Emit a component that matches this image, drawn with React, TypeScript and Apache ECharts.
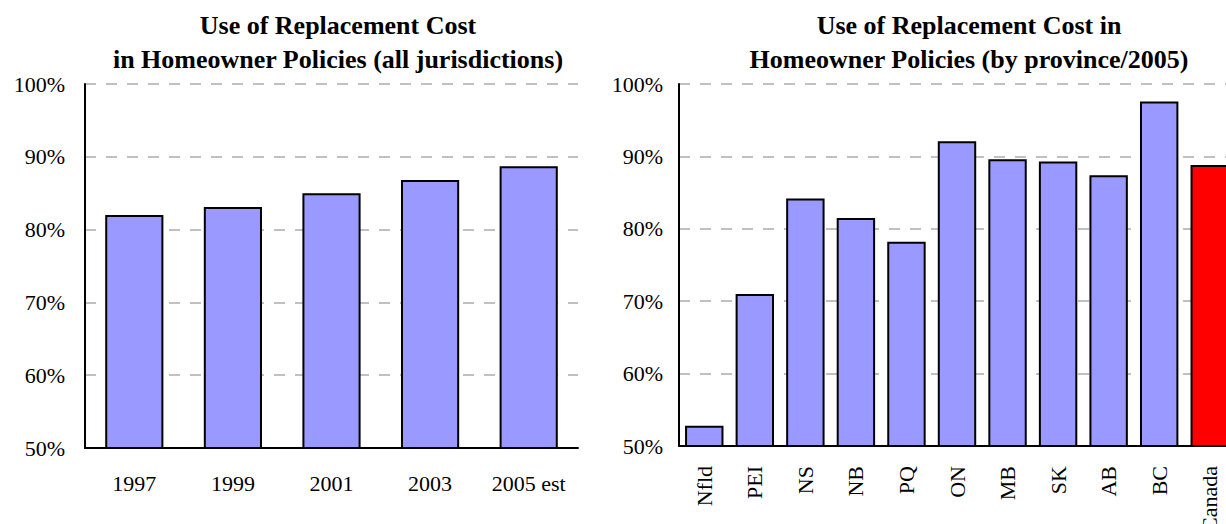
import React, { useEffect, useRef } from "react";
import * as echarts from "echarts";

const yearCategories = ["1997", "1999", "2001", "2003", "2005 est"];
const yearValues = [82.0, 83.1, 85.0, 86.8, 88.7];

const provinceCategories = ["Nfld", "PEI", "NS", "NB", "PQ", "ON", "MB", "SK", "AB", "BC", "Canada"];
const provinceValues = [52.8, 71.0, 84.2, 81.5, 78.2, 92.1, 89.6, 89.3, 87.4, 97.6, 88.8];
const highlightCategory = "Canada";

const yTickMin = 50;
const yTickMax = 100;
const yTickStep = 10;

const leftTitle = "Use of Replacement Cost\nin Homeowner Policies (all jurisdictions)";
const rightTitle = "Use of Replacement Cost in\nHomeowner Policies (by province/2005)";

const FONT = "'Liberation Serif', 'Times New Roman', serif";
const BAR_FILL = "#9999ff";
const HIGHLIGHT_FILL = "#ff0000";

export default function App() {
  const ref = useRef<HTMLDivElement>(null);

  useEffect(() => {
    if (!ref.current) return;
    const chart = echarts.init(ref.current, undefined, { renderer: "svg" });

    const yAxisBase = (gridIndex: number, margin: number) => ({
      type: "value",
      gridIndex,
      min: yTickMin,
      max: yTickMax,
      interval: yTickStep,
      axisLine: { show: true, lineStyle: { color: "#000", width: 2 } },
      axisTick: { show: false },
      axisLabel: {
        formatter: "{value}%",
        color: "#000",
        fontFamily: FONT,
        fontSize: 22,
        margin,
      },
      splitLine: {
        show: true,
        lineStyle: { color: "#c0c0c0", width: 2, type: [11, 10] },
      },
    });

    const titleStyle = {
      fontFamily: FONT,
      fontWeight: "bold",
      fontSize: 26,
      color: "#000",
      lineHeight: 34,
    };

    chart.setOption({
      animation: false,
      backgroundColor: "#fff",
      title: [
        {
          text: leftTitle,
          left: 338,
          top: 8,
          padding: 0,
          textAlign: "center",
          textStyle: titleStyle,
        },
        {
          text: rightTitle,
          left: 969,
          top: 8,
          padding: 0,
          textAlign: "center",
          textStyle: titleStyle,
        },
      ],
      grid: [
        { left: 85, top: 84, width: 493, height: 364, outerBoundsMode: "none", containLabel: false },
        { left: 679, top: 84, width: 556, height: 362, outerBoundsMode: "none", containLabel: false },
      ],
      xAxis: [
        {
          type: "category",
          gridIndex: 0,
          data: yearCategories,
          axisLine: { show: true, lineStyle: { color: "#000", width: 2 } },
          axisTick: { show: false },
          axisLabel: {
            color: "#000",
            fontFamily: FONT,
            fontSize: 22,
            margin: 24,
            interval: 0,
          },
        },
        {
          type: "category",
          gridIndex: 1,
          data: provinceCategories,
          axisLine: { show: true, lineStyle: { color: "#000", width: 2 } },
          axisTick: { show: false },
          axisLabel: {
            color: "#000",
            fontFamily: FONT,
            fontSize: 22,
            margin: 20,
            rotate: 90,
            interval: 0,
          },
        },
      ],
      yAxis: [yAxisBase(0, 20), yAxisBase(1, 16)],
      series: [
        {
          type: "bar",
          xAxisIndex: 0,
          yAxisIndex: 0,
          data: yearValues,
          barWidth: "59%",
          itemStyle: { color: BAR_FILL, borderColor: "#000", borderWidth: 2 },
        },
        {
          type: "bar",
          xAxisIndex: 1,
          yAxisIndex: 1,
          data: provinceValues.map((v, i) =>
            provinceCategories[i] === highlightCategory
              ? { value: v, itemStyle: { color: HIGHLIGHT_FILL } }
              : v
          ),
          barWidth: "76%",
          itemStyle: { color: BAR_FILL, borderColor: "#000", borderWidth: 2 },
        },
      ],
    });

    return () => chart.dispose();
  }, []);

  return (
    <div
      ref={ref}
      style={{ position: "fixed", left: 0, top: 0, width: 1226, height: 524 }}
    />
  );
}
